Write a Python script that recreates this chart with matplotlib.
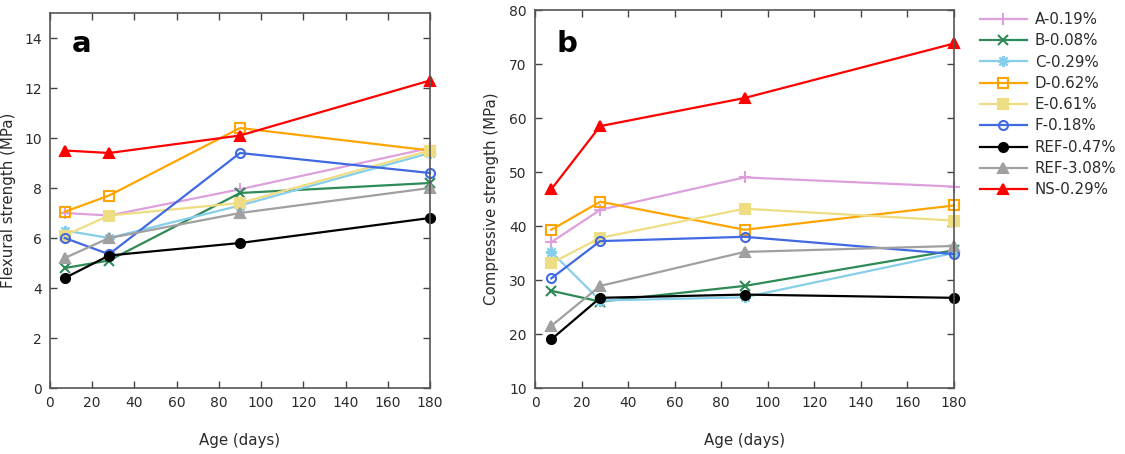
import matplotlib
matplotlib.use('Agg')
import matplotlib.pyplot as plt

# 데이터
age = [7, 28, 90, 180]

labels = ['A-0.19%', 'B-0.08%', 'C-0.29%', 'D-0.62%', 'E-0.61%',
          'F-0.18%', 'REF-0.47%', 'REF-3.08%', 'NS-0.29%']

# (a) 휨강도 (MPa)
flex_A = [7.0, 6.9, 7.95, 9.6]
flex_B = [4.8, 5.1, 7.8, 8.2]
flex_C = [6.3, 6.0, 7.3, 9.4]
flex_D = [7.05, 7.7, 10.4, 9.5]
flex_E = [6.1, 6.9, 7.4, 9.5]
flex_F = [6.0, 5.35, 9.4, 8.6]
flex_REF = [4.4, 5.3, 5.8, 6.8]
flex_REF3 = [5.2, 6.0, 7.0, 8.0]
flex_NS = [9.5, 9.4, 10.1, 12.3]

# (b) 압축강도 (MPa)
comp_A = [37.0, 43.0, 49.0, 47.3]
comp_B = [28.0, 26.0, 28.9, 35.5]
comp_C = [35.2, 26.2, 26.8, 35.0]
comp_D = [39.3, 44.5, 39.3, 43.8]
comp_E = [33.1, 37.8, 43.2, 41.0]
comp_F = [30.3, 37.2, 38.0, 34.8]
comp_REF = [19.0, 26.7, 27.3, 26.7]
comp_REF3 = [21.5, 28.9, 35.2, 36.3]
comp_NS = [46.8, 58.5, 63.7, 73.8]

flex = [flex_A, flex_B, flex_C, flex_D, flex_E, flex_F, flex_REF, flex_REF3, flex_NS]
comp = [comp_A, comp_B, comp_C, comp_D, comp_E, comp_F, comp_REF, comp_REF3, comp_NS]

# 스타일 (gnuplot 느낌)
colors = ['#dda0dd', '#2e8b57', '#87ceeb', '#ffa500', '#eedd82',
          '#4169e1', '#000000', '#a0a0a0', '#ff0000']
markers = ['+', 'x', (8, 2, 0), 's', 's', 'o', 'o', '^', '^']
filled = [True, True, True, False, True, False, True, True, True]
msizes = [8, 7, 8, 6.5, 7, 6.5, 6.5, 6.5, 6.5]

txt_color = '#2b2b2b'
plt.rcParams['font.family'] = ['DejaVu Sans']

fig = plt.figure(figsize=(11.25, 4.54), dpi=100)
ax_a = fig.add_axes([50 / 1125, 66 / 454, 380 / 1125, 375 / 454])
ax_b = fig.add_axes([535 / 1125, 66 / 454, 419 / 1125, 378 / 454])


def draw(ax, data):
    lines = []
    for vals, c, m, f, ms, lab in zip(data, colors, markers, filled, msizes, labels):
        ln, = ax.plot(age, vals, color=c, lw=1.6, marker=m, markersize=ms,
                      markerfacecolor=c if f else 'none', markeredgecolor=c,
                      markeredgewidth=1.5, label=lab, clip_on=False)
        lines.append(ln)
    return lines


def style(ax):
    ax.set_xlim(0, 180)
    ax.set_xticks(range(0, 181, 20))
    ax.tick_params(direction='in', length=5, width=1, top=True, right=True,
                   labelsize=10, labelcolor=txt_color, color='#444444', pad=6)
    for s in ax.spines.values():
        s.set_color('#555555')
        s.set_linewidth(1.2)


lines = draw(ax_a, flex)
style(ax_a)
ax_a.set_ylim(0, 15)
ax_a.set_yticks(range(0, 15, 2))
ax_a.set_xlabel('Age (days)', fontsize=10.8, color=txt_color)
ax_a.set_ylabel('Flexural strength (MPa)', fontsize=10.8, color=txt_color)
ax_a.xaxis.set_label_coords(0.5, -0.12)
ax_a.yaxis.set_label_coords(-0.089, 0.5)
ax_a.text(0.058, 0.896, 'a', transform=ax_a.transAxes, fontsize=21,
          fontweight='bold', va='baseline', ha='left')

draw(ax_b, comp)
style(ax_b)
ax_b.set_ylim(10, 80)
ax_b.set_yticks(range(10, 81, 10))
ax_b.set_xlabel('Age (days)', fontsize=10.8, color=txt_color)
ax_b.set_ylabel('Compressive strength (MPa)', fontsize=10.8, color=txt_color)
ax_b.xaxis.set_label_coords(0.501, -0.119)
ax_b.yaxis.set_label_coords(-0.086, 0.5)
ax_b.text(0.0525, 0.889, 'b', transform=ax_b.transAxes, fontsize=21,
          fontweight='bold', va='baseline', ha='left')

# 범례
fig.legend(handles=lines, loc='upper left', bbox_to_anchor=(980 / 1125, 1 - 12 / 454),
           frameon=False, fontsize=10.8, labelcolor=txt_color, handlelength=3.1,
           handletextpad=0.55, labelspacing=0.42, borderpad=0, borderaxespad=0)

fig.savefig('out.png', dpi=100)
